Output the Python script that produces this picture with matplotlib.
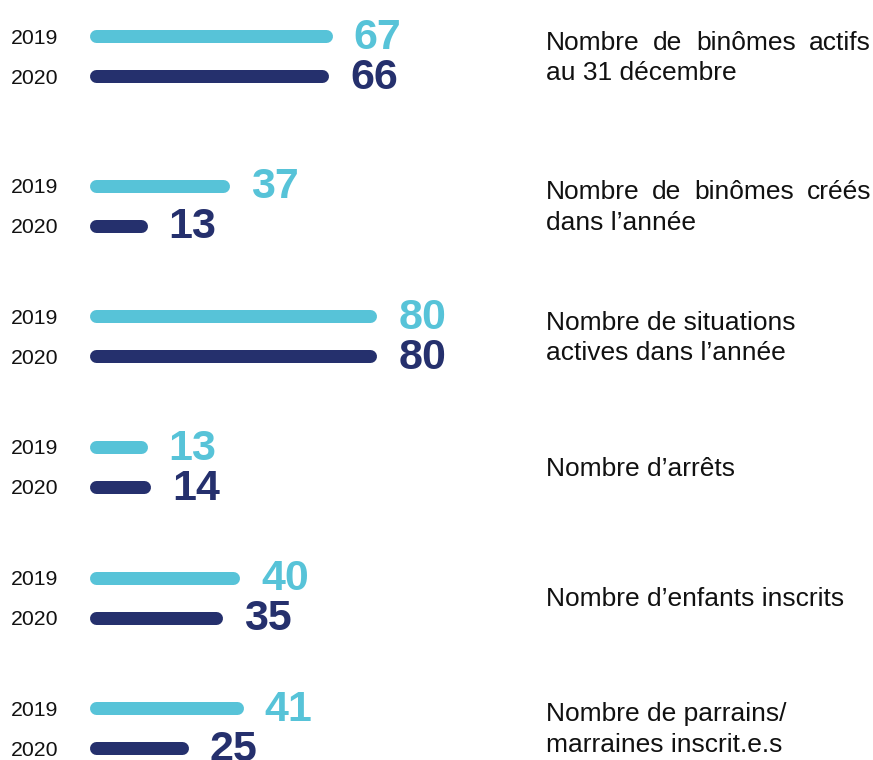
import matplotlib
matplotlib.use("Agg")
import matplotlib.pyplot as plt

# ---- data ----
categories = [
    "Nombre de binômes actifs\nau 31 décembre",
    "Nombre de binômes créés\ndans l\u2019année",
    "Nombre de situations\nactives dans l\u2019année",
    "Nombre d\u2019arrêts",
    "Nombre d\u2019enfants inscrits",
    "Nombre de parrains/\nmarraines inscrit.e.s",
]
years = ["2019", "2020"]
values_2019 = [67, 37, 80, 13, 40, 41]
values_2020 = [66, 13, 80, 14, 35, 25]
justify_first_line = [True, True, False, False, False, False]

# ---- layout ----
W, H, DPI = 873, 760, 100
group_centers = [56, 205.5, 336, 466.5, 597.5, 728]   # pixel rows
pair_offset = 20
px_per_unit = 3.43
x0_px = 96
c2019 = "#57C3D8"
c2020 = "#25306D"
font = "Liberation Sans"

fig = plt.figure(figsize=(W / DPI, H / DPI), dpi=DPI)
ax = fig.add_axes([0, 0, 1, 1])
ax.set_xlim(-x0_px / px_per_unit, (W - x0_px) / px_per_unit)
ax.set_ylim(H, 0)
ax.axis("off")

ov = fig.add_axes([0, 0, 1, 1], facecolor="none")
ov.set_xlim(0, W)
ov.set_ylim(H, 0)
ov.axis("off")

lw = 13 * 72 / DPI
gap_pt = 28 * 72 / DPI

for i, gc in enumerate(group_centers):
    for v, col, yr, dy in ((values_2019[i], c2019, years[0], -pair_offset),
                           (values_2020[i], c2020, years[1], pair_offset)):
        y = gc + dy
        ax.plot([0, v], [y, y], color=col, lw=lw, solid_capstyle="round")
        ax.annotate(str(v), xy=(v, y + 13), xytext=(gap_pt, 0),
                    textcoords="offset points", ha="left", va="baseline",
                    fontsize=31, fontweight="bold", family=font, color=col,
                    annotation_clip=False, clip_on=False)
        ov.text(11, y + 7.5, yr, ha="left", va="baseline",
                fontsize=15.3, family=font, color="#111111")

# right-hand labels
renderer = fig.canvas.get_renderer()
lx0, lx1 = 546, 871
fs = 19
line_h = 31
for i, gc in enumerate(group_centers):
    lines = categories[i].split("\n")
    n = len(lines)
    first_base = gc - (n - 1) * line_h / 2 + 9
    for j, line in enumerate(lines):
        yb = first_base + j * line_h
        if j == 0 and justify_first_line[i] and n > 1:
            words = line.split(" ")
            objs = [ov.text(0, yb, w, ha="left", va="baseline", fontsize=fs,
                            family=font, color="#111111") for w in words]
            widths = []
            for o in objs:
                bb = o.get_window_extent(renderer=renderer)
                widths.append(bb.width)
            gap = (lx1 - lx0 - sum(widths)) / (len(words) - 1)
            x = lx0
            for o, wd in zip(objs, widths):
                o.set_x(x)
                x += wd + gap
        else:
            ov.text(lx0, yb, line, ha="left", va="baseline", fontsize=fs,
                    family=font, color="#111111")

fig.savefig("out.png", dpi=DPI)
